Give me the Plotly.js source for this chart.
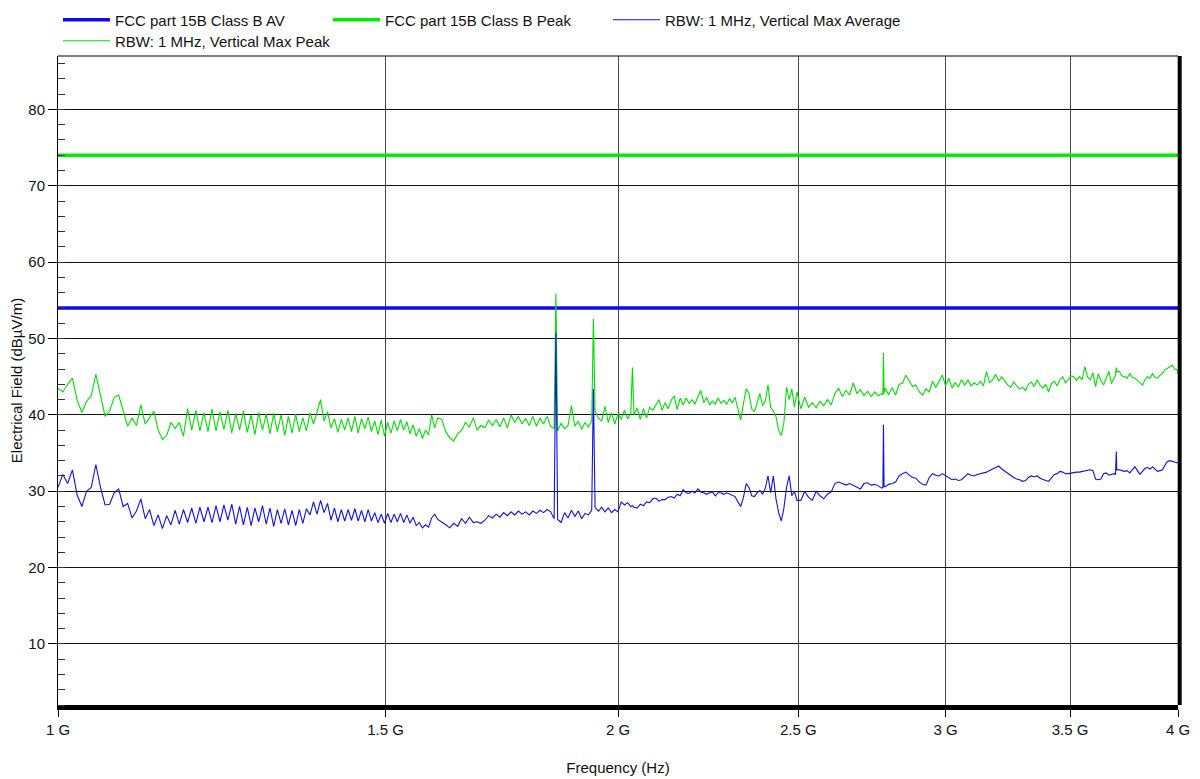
<!DOCTYPE html>
<html><head><meta charset="utf-8">
<script src="https://cdn.plot.ly/plotly-3.0.1.min.js"></script>
<style>html,body{margin:0;padding:0;background:#fff;}#chart{width:1200px;height:779px;}</style>
</head><body><div id="chart"></div>
<script>
// Frequencies of the sweep points (MHz)
const freqMHz = [
1000,1006,1012,1018,1024,1030,1036,1042,1048,1054,
1060,1066,1072,1078,1084,1090,1096,1102,1108,1114,
1120,1126,1132,1138,1144,1150,1156,1162,1168,1174,
1180,1186,1192,1198,1204,1210,1216,1222,1228,1234,
1240,1246,1252,1258,1264,1270,1276,1282,1288,1294,
1300,1306,1312,1318,1324,1330,1336,1342,1348,1354,
1360,1366,1372,1378,1384,1390,1396,1402,1408,1414,
1420,1426,1432,1438,1444,1450,1456,1462,1468,1474,
1480,1486,1492,1498,1504,1510,1516,1522,1528,1534,
1540,1546,1552,1558,1564,1570,1576,1582,1588,1594,
1600,
1608,1616,1624,1632,1640,1648,1656,1664,1672,1680,
1688,1696,1704,1712,1720,1728,1736,1744,1752,1760,
1768,1776,1784,1792,1800,1808,1816,1824,1832,1840,
1848,1852,1856,1864,1872,1880,1888,1896,1904,1912,
1920,1928,1936,1940,1944,1952,1960,1968,1976,1984,
1992,2000,2008,2016,2024,2032,2036,2040,2048,2056,
2064,2072,2080,2088,2096,2104,2112,2120,2128,2136,
2144,2152,2160,2168,2176,2184,2192,2200,2208,2216,
2224,2232,2240,2248,2256,2264,2272,2280,2288,2296,
2304,2312,2320,2328,2336,2344,2352,2360,2368,2376,
2384,2392,2400,2408,2416,2424,2432,2440,2448,2456,
2464,2472,2480,2488,2496,
2508,2520,2532,2544,2556,2568,2580,2592,2604,2616,
2628,2640,2652,2664,2676,2688,2700,2712,2724,2736,
2748,2760,2772,2776,2778,2780,2784,2796,2808,2820,
2832,2844,2856,2868,2880,2892,2904,2916,2928,2940,
2952,2964,2976,2988,3000,3012,3024,3036,3048,3060,
3072,3084,3096,3108,3120,3132,3144,3156,3168,3180,
3192,3204,3216,3228,3240,3252,3264,3276,3288,3300,
3312,3324,3336,3348,3360,3372,3384,3396,3408,3420,
3432,3444,3456,3468,3480,3492,3504,3516,3528,3540,
3552,3564,3576,3588,3600,3612,3624,3636,3648,3660,
3672,3684,3696,3702,3706,3708,3720,3732,3744,3756,
3768,3780,3792,3804,3816,3828,3840,3852,3864,3876,
3888,3900,3912,3924,3936,3948,3960,3972,3984,3996,4000
];

// RBW: 1 MHz, Vertical Max Average (dBµV/m)
const maxAverage = [
30.5,32.2,31.0,32.8,29.5,28.0,30.0,30.5,33.5,30.5,
28.2,28.3,29.8,30.3,28.0,28.4,26.5,27.4,29.0,26.4,
27.6,25.5,26.9,25.1,26.8,25.6,27.5,25.7,27.6,25.9,
27.8,25.8,27.9,26.0,27.9,25.9,28.1,26.0,28.2,26.2,
28.3,25.7,28.0,25.6,27.9,25.5,27.8,26.0,28.1,25.7,
27.8,25.4,27.6,25.8,27.7,25.6,27.5,25.5,27.6,25.8,
27.7,26.9,28.6,27.0,28.8,27.2,28.4,26.2,27.8,26.0,
27.6,26.1,27.6,26.2,27.7,26.1,27.5,26.0,27.6,26.1,
27.2,25.9,27.0,25.8,27.1,25.9,27.0,26.0,27.1,25.9,
26.9,25.8,26.6,25.5,25.9,25.2,25.6,25.3,26.5,27.0,
26.3,
26.0,25.6,25.2,25.8,25.4,26.4,25.8,26.6,25.9,26.0,
25.8,26.2,26.8,26.5,27.0,26.6,27.2,26.8,27.3,26.9,
27.4,27.0,27.3,26.9,27.4,27.1,27.5,27.2,27.6,27.3,
26.4,50.7,26.3,25.9,27.2,26.5,27.5,26.7,27.4,26.4,
27.1,26.9,27.5,43.4,27.9,27.4,27.9,27.3,27.8,27.2,
27.6,27.3,28.6,28.2,28.5,28.0,28.1,27.9,27.8,28.3,
28.1,28.6,28.5,29.0,29.1,28.7,28.9,28.9,29.2,29.3,
29.1,29.6,29.4,30.2,29.8,29.7,30.0,29.8,30.3,29.9,
29.8,29.6,29.8,29.9,29.4,29.8,29.8,29.6,29.8,29.6,
29.5,29.3,28.6,28.0,29.2,31.0,30.5,29.4,29.3,29.8,
30.1,29.6,30.4,32.0,29.8,32.0,29.0,27.2,26.1,27.8,
30.5,32.0,29.4,30.0,28.8,
28.8,30.0,29.2,28.8,30.0,29.4,29.0,29.6,29.9,31.0,
31.2,31.0,30.8,31.0,30.8,30.6,30.3,31.0,31.1,30.8,
30.9,30.7,30.4,30.5,38.7,30.6,30.6,30.9,31.0,31.2,
32.0,32.3,32.5,32.1,31.8,31.7,31.2,30.9,30.8,31.8,
32.3,32.1,32.0,32.3,32.0,31.7,31.5,31.6,31.4,31.5,
31.9,32.3,32.1,32.0,32.2,32.3,32.4,32.5,32.7,32.9,
33.1,33.3,32.9,32.6,32.3,32.0,31.8,31.6,31.5,31.3,
31.4,31.8,32.0,31.9,32.0,31.7,31.5,31.4,31.3,31.8,
32.2,32.3,32.6,32.5,32.3,32.3,32.4,32.4,32.5,32.5,
32.6,32.7,32.8,32.8,32.7,31.6,31.5,31.6,32.3,32.4,
32.1,32.2,32.3,32.2,35.2,32.8,32.8,32.7,32.6,32.7,
32.4,32.8,33.2,32.7,32.2,32.6,33.0,33.1,32.9,33.2,
32.9,32.6,32.7,32.8,33.4,33.9,34.0,33.9,33.8,33.7,33.7
];

// RBW: 1 MHz, Vertical Max Peak (dBµV/m)
const maxPeak = [
43.5,43.0,44.0,44.8,41.9,40.3,41.8,42.5,45.3,42.6,
39.8,40.5,42.3,42.6,40.6,38.5,39.6,38.6,41.3,38.8,
39.6,40.5,38.0,36.8,37.3,39.0,38.2,39.0,37.2,40.8,
38.0,40.6,37.9,40.3,37.8,40.8,37.9,40.4,38.1,40.6,
37.6,40.2,38.0,40.5,37.7,40.0,37.4,40.3,38.0,40.1,
37.5,40.2,37.8,40.0,37.3,39.8,37.6,40.1,37.8,39.6,
37.9,40.3,38.8,40.6,42.0,39.2,40.4,38.3,39.5,37.7,
39.4,38.0,39.6,37.8,39.8,37.6,39.5,38.2,39.7,37.8,
39.2,37.4,39.3,37.2,39.0,37.6,39.2,37.9,39.4,38.0,
39.1,37.5,38.7,37.2,38.2,36.9,38.0,37.4,40.0,38.3,
39.6,
39.4,37.8,37.0,36.6,37.5,38.0,39.0,38.4,39.6,38.0,
38.6,38.3,39.3,38.6,39.4,38.4,39.6,38.3,40.0,39.0,
39.8,38.8,39.5,38.6,39.8,38.5,39.6,38.8,39.8,38.5,
38.2,55.9,37.9,38.9,38.2,38.6,41.2,38.5,39.2,38.1,
39.0,38.4,39.2,52.6,40.5,39.6,39.2,41.1,39.0,40.3,
38.8,40.2,39.4,40.6,39.5,40.2,46.2,40.0,40.9,39.4,
40.8,39.6,41.0,40.6,41.3,42.0,40.6,41.6,40.8,41.9,
42.5,40.7,42.2,41.3,42.2,41.5,42.0,41.4,42.4,43.2,
41.6,42.3,41.3,41.8,41.4,42.2,41.5,41.9,41.4,42.1,
41.6,42.3,40.8,39.3,41.5,43.4,42.8,40.8,40.4,41.6,
42.8,41.2,41.8,43.9,41.0,40.5,39.8,38.0,37.3,39.0,
43.6,42.0,43.4,41.0,43.0,
40.8,42.3,41.0,41.6,40.9,41.8,41.2,42.0,41.3,42.8,
43.5,42.4,43.2,42.6,44.2,42.8,43.3,42.5,43.1,42.4,
43.0,42.5,42.8,42.6,48.1,42.8,43.5,42.6,43.6,42.6,
44.0,44.1,45.2,44.4,43.7,43.9,43.0,42.6,43.4,43.0,
44.4,43.6,44.4,45.2,43.8,44.8,43.5,44.2,43.7,44.6,
43.9,44.6,43.8,44.2,43.9,44.4,43.8,45.7,44.2,44.6,
45.3,44.4,45.0,44.5,43.9,43.6,44.3,43.8,43.4,43.6,
43.2,44.0,44.3,43.7,44.6,43.9,43.5,44.0,43.0,44.1,
44.4,43.8,44.6,45.0,44.2,44.6,45.1,45.0,44.5,45.0,
44.6,46.3,45.0,44.6,45.5,43.7,45.4,44.5,43.9,44.8,
45.7,44.1,44.8,45.2,46.2,45.6,45.7,45.1,45.0,44.8,
45.4,44.9,44.8,44.5,44.2,43.9,44.6,45.0,44.8,45.4,
44.9,44.8,45.2,45.4,45.9,46.1,46.3,46.5,46.0,45.9,45.4
];

// Limit lines
const limitFreqMHz = [1000, 4000];
const limitClassBAV = [54, 54];
const limitClassBPeak = [74, 74];

// Axis ticks
const xTickFreqMHz = [1000, 1500, 2000, 2500, 3000, 3500, 4000];
const xTickLabels = ['1 G', '1.5 G', '2 G', '2.5 G', '3 G', '3.5 G', '4 G'];
const yTickValues = [10, 20, 30, 40, 50, 60, 70, 80];

const FONT = 'Liberation Sans, Arial, Helvetica, sans-serif';
const legendFont = {family: FONT, size: 15, color: '#111'};

const traces = [
  {x: limitFreqMHz, y: limitClassBAV, type: 'scatter', mode: 'lines',
   name: 'FCC part 15B Class B AV', legend: 'legend', legendwidth: 208,
   line: {color: '#0a0af2', width: 3.5}},
  {x: limitFreqMHz, y: limitClassBPeak, type: 'scatter', mode: 'lines',
   name: 'FCC part 15B Class B Peak', legend: 'legend', legendwidth: 218,
   line: {color: '#00ee00', width: 3.5}},
  {x: freqMHz, y: maxPeak, type: 'scatter', mode: 'lines',
   name: 'RBW: 1 MHz, Vertical Max Peak', legend: 'legend2', legendwidth: 262,
   line: {color: '#00e000', width: 1.1}},
  {x: freqMHz, y: maxAverage, type: 'scatter', mode: 'lines',
   name: 'RBW: 1 MHz, Vertical Max Average', legend: 'legend', legendwidth: 270,
   line: {color: '#1010e8', width: 1.1}}
];

const legendBase = {orientation: 'h', x: 0, xanchor: 'left', yanchor: 'middle',
  font: legendFont, itemwidth: 47, bgcolor: 'rgba(0,0,0,0)', traceorder: 'normal'};

const layout = {
  width: 1200, height: 779,
  margin: {l: 58, r: 22, t: 56, b: 74, autoexpand: false},
  paper_bgcolor: '#ffffff', plot_bgcolor: '#ffffff',
  font: {family: FONT, size: 15, color: '#111'},
  showlegend: true,
  legend: Object.assign({}, legendBase, {y: 1.0554}),
  legend2: Object.assign({}, legendBase, {y: 1.0231}),
  xaxis: {type: 'log', range: [Math.log10(1000), Math.log10(4000)],
          tickmode: 'array', tickvals: xTickFreqMHz, ticktext: xTickLabels,
          ticks: 'outside', ticklen: 7, tickwidth: 1, tickcolor: '#000',
          showgrid: true, gridcolor: '#4a4a4a', gridwidth: 1.2,
          showline: true, linecolor: '#000', linewidth: 4.5,
          zeroline: false, tickfont: {family: FONT, size: 15, color: '#111'},
          title: {text: 'Frequency (Hz)', font: {family: FONT, size: 15, color: '#111'}, standoff: 27}},
  yaxis: {range: [2, 87], tickmode: 'array', tickvals: yTickValues,
          ticks: 'outside', ticklen: 9, tickwidth: 1, tickcolor: '#000',
          showgrid: true, gridcolor: '#111', gridwidth: 1,
          showline: true, linecolor: '#000', linewidth: 1,
          zeroline: false, tickfont: {family: FONT, size: 15, color: '#111'},
          minor: {tickmode: 'linear', tick0: 0, dtick: 2, ticks: 'inside', ticklen: 7,
                  tickwidth: 1, tickcolor: '#333', showgrid: false},
          title: {text: 'Electrical Field (dBµV/m)', font: {family: FONT, size: 15, color: '#111'}, standoff: 2}},
  shapes: [
    {type: 'line', xref: 'paper', yref: 'paper', x0: 0, x1: 1, y0: 1, y1: 1,
     line: {color: '#000', width: 1}},
    {type: 'line', xref: 'paper', yref: 'paper', x0: 1.0015, x1: 1.0015, y0: 0, y1: 1,
     line: {color: '#000', width: 4}}
  ]
};

Plotly.newPlot('chart', traces, layout, {displayModeBar: false, responsive: false});
</script>
</body></html>
